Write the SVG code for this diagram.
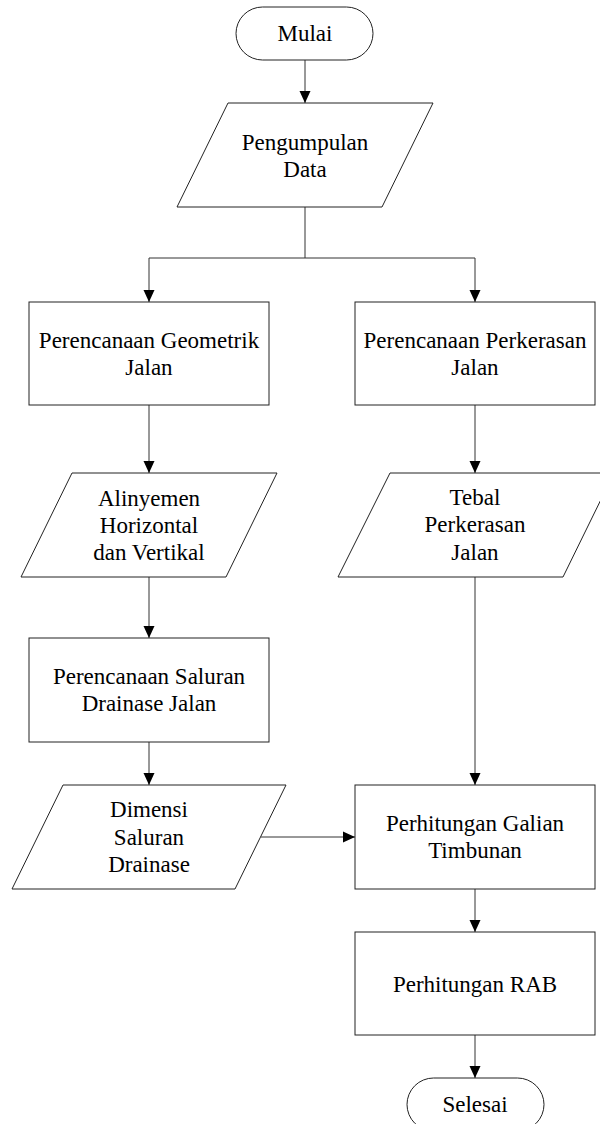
<svg xmlns="http://www.w3.org/2000/svg" width="600" height="1124" viewBox="0 0 600 1124">
<style>
.s{fill:#fff;stroke:#222;stroke-width:1}
.c{fill:none;stroke:#333;stroke-width:1}
.t{font-family:"Liberation Serif","Times New Roman",serif;font-size:23px;fill:#000;text-anchor:middle}
</style>
<defs>
<marker id="ah" viewBox="0 0 12 12" refX="12" refY="6" markerWidth="12" markerHeight="12" markerUnits="userSpaceOnUse" orient="auto">
<path d="M0,0.5 L12,6 L0,11.5 Z" fill="#000"/>
</marker>
</defs>
<rect width="600" height="1124" fill="#fff"/>
<g id="connectors">
<line class="c" x1="305" y1="60" x2="305" y2="103" marker-end="url(#ah)"/>
<polyline class="c" points="305,207 305,258 149,258 149,302" marker-end="url(#ah)"/>
<polyline class="c" points="305,258 475,258 475,302" marker-end="url(#ah)"/>
<line class="c" x1="149" y1="405" x2="149" y2="473" marker-end="url(#ah)"/>
<line class="c" x1="475" y1="405" x2="475" y2="473" marker-end="url(#ah)"/>
<line class="c" x1="149" y1="577" x2="149" y2="638" marker-end="url(#ah)"/>
<line class="c" x1="149" y1="742" x2="149" y2="785" marker-end="url(#ah)"/>
<line class="c" x1="475" y1="577" x2="475" y2="785" marker-end="url(#ah)"/>
<line class="c" x1="261" y1="837" x2="355" y2="837" marker-end="url(#ah)"/>
<line class="c" x1="475" y1="889" x2="475" y2="932" marker-end="url(#ah)"/>
<line class="c" x1="475" y1="1035" x2="475" y2="1078" marker-end="url(#ah)"/>
</g>
<g id="mulai">
<rect class="s" x="236" y="7" width="137" height="53" rx="26.5" ry="26.5"/>
<text class="t" x="305" y="41">Mulai</text>
</g>
<g id="pengumpulan">
<polygon class="s" points="228,103 433,103 382,207 177,207"/>
<text class="t" x="305" y="150">Pengumpulan</text>
<text class="t" x="305" y="177">Data</text>
</g>
<g id="geometrik">
<rect class="s" x="29" y="302" width="240" height="103"/>
<text class="t" x="149" y="348">Perencanaan Geometrik</text>
<text class="t" x="149" y="375">Jalan</text>
</g>
<g id="perkerasan">
<rect class="s" x="355" y="302" width="240" height="103"/>
<text class="t" x="475" y="348">Perencanaan Perkerasan</text>
<text class="t" x="475" y="375">Jalan</text>
</g>
<g id="alinyemen">
<polygon class="s" points="72,473 277,473 226,577 21,577"/>
<text class="t" x="149" y="506">Alinyemen</text>
<text class="t" x="149" y="533">Horizontal</text>
<text class="t" x="149" y="560">dan Vertikal</text>
</g>
<g id="tebal">
<polygon class="s" points="390,473 614,473 563,577 338,577"/>
<text class="t" x="475" y="505">Tebal</text>
<text class="t" x="475" y="532">Perkerasan</text>
<text class="t" x="475" y="560">Jalan</text>
</g>
<g id="saluran">
<rect class="s" x="29" y="638" width="240" height="104"/>
<text class="t" x="149" y="684">Perencanaan Saluran</text>
<text class="t" x="149" y="711">Drainase Jalan</text>
</g>
<g id="dimensi">
<polygon class="s" points="63,785 286,785 235,889 12,889"/>
<text class="t" x="149" y="817">Dimensi</text>
<text class="t" x="149" y="845">Saluran</text>
<text class="t" x="149" y="872">Drainase</text>
</g>
<g id="galian">
<rect class="s" x="355" y="785" width="240" height="104"/>
<text class="t" x="475" y="831">Perhitungan Galian</text>
<text class="t" x="475" y="858">Timbunan</text>
</g>
<g id="rab">
<rect class="s" x="355" y="932" width="240" height="103"/>
<text class="t" x="475" y="992">Perhitungan RAB</text>
</g>
<g id="selesai">
<rect class="s" x="407" y="1078" width="137" height="53" rx="26.5" ry="26.5"/>
<text class="t" x="475" y="1112">Selesai</text>
</g>
</svg>
